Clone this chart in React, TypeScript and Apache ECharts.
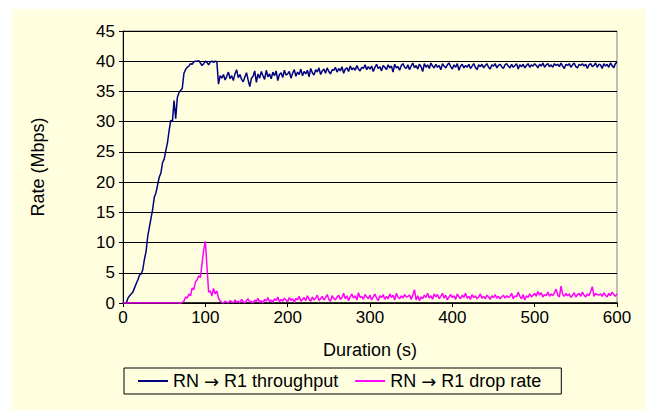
import React, { useEffect, useRef } from "react";
import * as echarts from "echarts";

const STEP = 2; // seconds between samples
const xTicks = [0, 100, 200, 300, 400, 500, 600];
const yTicks = [0, 5, 10, 15, 20, 25, 30, 35, 40, 45];

const throughput = [
  0, 0, 0, 0.8, 1.2, 1.5, 1.8, 2.5, 3.2, 3.8,
  4.6, 4.8, 5.5, 7.2, 8.5, 11, 12.5, 14, 15.5, 17.5,
  18.2, 19.5, 20.8, 21.5, 23.2, 23.8, 25.2, 26.5, 28.5, 30.2,
  30, 33.5, 30.5, 34, 34.8, 35.2, 35.5, 38, 38.6, 39,
  39.2, 39.6, 39.5, 39.9, 40, 40, 40.1, 39.7, 39.3, 39.6,
  40, 39.8, 39.4, 39.9, 40, 39.8, 40, 39.9, 36.2, 37.6,
  37.2, 37.8, 36.9, 37.5, 38.2, 37.1, 37.6, 36.8, 37.9, 38.6,
  37.3, 37.8, 37.0, 36.6, 37.4, 38.1, 36.9, 35.8, 37.2, 37.5,
  38.4, 36.5, 37.9, 37.2, 38.3, 37.6, 37.0, 38.5, 37.4, 37.9,
  37.1, 38.2, 37.6, 38.4, 36.8, 37.8, 38.1, 37.3, 38.5, 37.7,
  37.9, 38.3, 37.2, 38.0, 38.6, 37.5, 38.2, 37.8, 38.7, 37.6,
  38.3, 37.9, 38.5, 37.4, 38.8, 38.1, 37.7, 38.6, 38.2, 38.9,
  37.8, 38.4, 38.7, 38.0, 38.9, 38.3, 37.9, 38.6, 38.5, 39.0,
  38.2, 38.8, 38.4, 39.1, 38.0, 38.7, 38.9, 38.3, 39.2, 38.6,
  38.9, 38.5, 39.3, 38.7, 38.4, 39.0, 38.8, 39.4, 38.6, 39.1,
  38.7, 39.2, 38.3, 39.0, 39.5, 38.8, 39.1, 38.4, 39.3, 39.0,
  38.6, 39.4, 38.9, 39.2, 38.2, 39.5, 38.9, 39.1, 38.5, 39.3,
  39.6, 39.0, 38.8, 39.4, 38.6, 39.2, 39.7, 38.9, 39.3, 38.7,
  39.5, 39.1, 38.3, 39.6, 39.0, 39.4, 38.8, 39.7, 39.2, 38.9,
  39.5, 39.0, 39.3, 38.6, 39.6, 39.2, 38.9, 39.4, 39.7, 39.1,
  38.7, 39.4, 39.0, 39.6, 38.5, 39.2, 39.5, 38.9, 39.3, 39.0,
  39.5, 38.8, 39.2, 39.6, 39.0, 38.6, 39.4, 39.1, 39.5, 38.9,
  39.3, 39.6, 39.0, 38.7, 39.4, 39.2, 39.6, 38.9, 39.3, 39.5,
  39.1, 38.8, 39.4, 39.6, 39.2, 38.9, 39.5, 39.0, 39.3, 39.6,
  38.7, 39.4, 39.1, 39.5, 38.9, 39.3, 39.6, 39.0, 39.4, 39.2,
  39.6, 39.3, 38.9, 39.5, 39.2, 39.7, 39.0, 39.4, 39.6, 39.1,
  39.4, 39.0, 39.6, 39.3, 39.5, 39.1, 39.7, 39.2, 38.8, 39.5,
  39.3, 39.6, 39.0, 39.4, 39.7, 39.1, 38.9, 39.5, 39.3, 39.6,
  39.2, 39.5, 38.8, 39.4, 39.6, 39.1, 39.3, 39.7, 39.0, 39.5,
  39.4, 38.8, 39.6, 39.2, 39.5, 39.0, 39.7, 39.3, 38.9, 39.6,
  39.8,
];

const dropRate = [
  0, 0, 0, 0, 0, 0, 0, 0, 0, 0,
  0, 0, 0, 0, 0, 0, 0, 0, 0, 0,
  0, 0, 0, 0, 0, 0, 0, 0, 0, 0,
  0, 0, 0, 0, 0, 0, 0.1, 0.3, 1.0, 0.8,
  1.5, 1.2, 2.5, 2.2, 3.5, 3.8, 4.5, 4.2, 6.5, 8.8,
  10.2, 6.0, 1.8, 2.0, 1.2, 2.4, 1.5, 2.0, 0.8, 0.3,
  0.1, 0.0, 0.3, 0.1, 0.0, 0.4, 0.2, 0.0, 0.5, 0.1,
  0.3, 0.0, 0.6, 0.2, 0.0, 0.4, 0.7, 0.1, 0.3, 0.0,
  0.5, 0.2, 0.8, 0.1, 0.4, 0.0, 0.6, 0.3, 0.9, 0.2,
  0.5, 0.1, 0.7, 0.4, 1.0, 0.2, 0.6, 0.3, 0.8, 0.5,
  0.2, 0.9, 0.4, 0.7, 0.1, 0.8, 0.5, 1.1, 0.3, 0.6,
  0.9, 0.4, 1.2, 0.6, 0.3, 1.0, 0.5, 0.8, 1.3, 0.4,
  0.7, 1.1, 0.5, 0.9, 1.4, 0.6, 0.3, 1.2, 0.8, 0.5,
  1.0, 1.3, 0.6, 0.9, 1.6, 0.7, 1.2, 0.4, 1.0, 1.5,
  0.8, 1.2, 0.5, 1.7, 0.9, 1.1, 0.6, 1.4, 1.0, 0.7,
  1.3, 0.5, 1.0, 1.5, 0.8, 0.4, 1.2, 0.9, 1.4, 0.6,
  1.1, 0.7, 1.5, 0.9, 1.3, 0.5, 1.6, 1.0, 0.7, 1.2,
  0.8, 1.4, 1.0, 1.1, 1.3, 0.6, 1.3, 2.2, 0.5, 1.2,
  0.4, 1.0, 0.7, 1.3, 0.9, 1.6, 0.8, 1.2, 0.6, 1.5,
  1.0, 1.4, 0.7, 1.1, 1.6, 0.8, 1.3, 0.5, 1.0, 1.4,
  0.9, 1.2, 0.6, 1.5, 1.0, 0.7, 1.3, 0.9, 1.6, 0.8,
  1.1, 0.6, 1.4, 0.9, 1.2, 0.7, 1.0, 1.5, 0.8, 1.1,
  0.7, 1.3, 1.0, 0.6, 1.2, 0.9, 1.4, 0.8, 1.1, 0.7,
  1.0, 1.3, 0.8, 1.2, 0.9, 1.1, 1.6, 0.7, 1.2, 1.0,
  1.8, 1.1, 0.7, 1.4, 0.5, 1.2, 0.9, 1.5, 1.0, 1.3,
  1.6, 1.1, 1.9, 1.3, 1.7, 1.0, 1.4, 1.2, 1.8, 1.1,
  1.5, 1.2, 1.7, 2.3, 1.3, 1.0, 2.8, 1.4, 1.1, 1.6,
  1.2, 1.5, 0.9, 1.3, 1.7, 1.0, 1.4, 1.6, 1.1, 1.8,
  1.3, 1.0, 1.5, 1.2, 1.9, 2.7, 1.1, 1.6, 1.4, 1.3,
  1.5, 1.1, 1.7, 1.3, 1.0, 1.6, 1.2, 1.8, 1.4, 1.1,
  1.5,
];

const seriesNames = ["RN \u2192 R1 throughput", "RN \u2192 R1 drop rate"];
const FONT = "'Liberation Sans', Arial, sans-serif";
const BG = "#FFFFE0";

export default function App() {
  const ref = useRef<HTMLDivElement>(null);
  useEffect(() => {
    if (!ref.current) return;
    const chart = echarts.init(ref.current, null, { renderer: "svg" });
    const toPairs = (arr: number[]) => arr.map((v, i) => [i * STEP, v]);
    chart.setOption({
      animation: false,
      backgroundColor: "#ffffff",
      textStyle: { fontFamily: FONT, color: "#000" },
      graphic: [
        {
          type: "rect",
          z: -10,
          silent: true,
          shape: { x: 12, y: 9, width: 633, height: 401 },
          style: { fill: BG },
        },
      ],
      grid: {
        left: 123,
        top: 31,
        width: 494,
        height: 272,
        show: true,
        backgroundColor: BG,
        borderColor: "#808080",
        borderWidth: 1,
      },
      legend: {
        left: 124,
        top: 368,
        orient: "horizontal",
        padding: [4, 20, 4, 14],
        itemWidth: 30,
        itemHeight: 2,
        itemGap: 17,
        icon: "rect",
        borderColor: "#000",
        borderWidth: 1,
        backgroundColor: BG,
        formatter: (name: string) => name.replace("\u2192", "{a|\u2192}"),
        textStyle: {
          fontFamily: FONT,
          fontSize: 18,
          color: "#000",
          rich: { a: { fontFamily: "'DejaVu Sans', sans-serif", fontSize: 18, color: "#000" } },
        },
        data: [
          { name: seriesNames[0], textStyle: { width: 173 } },
          { name: seriesNames[1], textStyle: { width: 159 } },
        ],
      },
      xAxis: {
        type: "value",
        min: xTicks[0],
        max: xTicks[xTicks.length - 1],
        interval: xTicks[1] - xTicks[0],
        name: "Duration (s)",
        nameLocation: "middle",
        nameGap: 38,
        nameTextStyle: { fontFamily: FONT, fontSize: 18, color: "#000" },
        axisLine: { show: true, onZero: false, lineStyle: { color: "#000", width: 1.5 } },
        axisTick: { show: true, inside: false, length: 4, lineStyle: { color: "#000" } },
        axisLabel: { fontFamily: FONT, fontSize: 17, color: "#000", margin: 6 },
        splitLine: { show: false },
      },
      yAxis: {
        type: "value",
        min: yTicks[0],
        max: yTicks[yTicks.length - 1],
        interval: yTicks[1] - yTicks[0],
        name: "Rate (Mbps)",
        nameLocation: "middle",
        nameGap: 76,
        nameTextStyle: { fontFamily: FONT, fontSize: 18, color: "#000" },
        axisLine: { show: true, lineStyle: { color: "#000", width: 1 } },
        axisTick: { show: true, inside: false, length: 4, lineStyle: { color: "#000" } },
        axisLabel: { fontFamily: FONT, fontSize: 17, color: "#000", margin: 8 },
        splitLine: { show: true, lineStyle: { color: "#000", width: 1 } },
      },
      series: [
        {
          name: seriesNames[0],
          type: "line",
          data: toPairs(throughput),
          showSymbol: false,
          symbol: "none",
          color: "#000080",
          lineStyle: { color: "#000080", width: 1.5 },
        },
        {
          name: seriesNames[1],
          type: "line",
          data: toPairs(dropRate),
          showSymbol: false,
          symbol: "none",
          color: "#FF00FF",
          lineStyle: { color: "#FF00FF", width: 1.5 },
        },
      ],
    });
    return () => chart.dispose();
  }, []);
  return (
    <div
      ref={ref}
      style={{ position: "absolute", left: 0, top: 0, width: 651, height: 410 }}
    />
  );
}
